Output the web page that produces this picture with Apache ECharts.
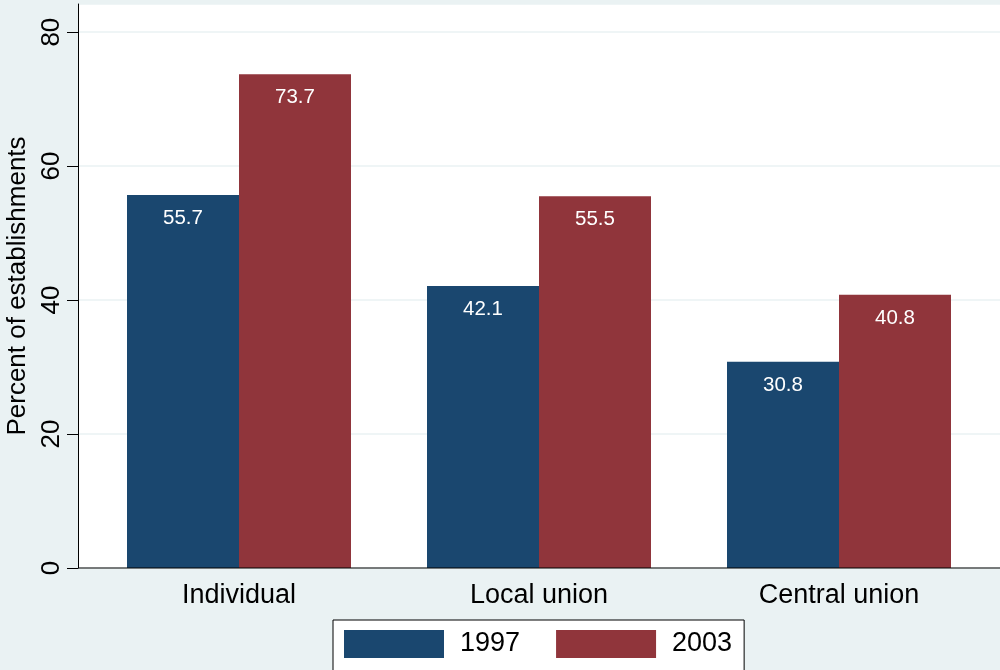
<!DOCTYPE html>
<html><head><meta charset="utf-8">
<script src="https://cdn.jsdelivr.net/npm/echarts@6/dist/echarts.min.js"></script>
<style>html,body{margin:0;padding:0;background:#eaf2f3}#c{width:1000px;height:670px}</style>
</head><body><div id="c"></div>
<script>
const categories = ['Individual', 'Local union', 'Central union'];
const seriesNames = ['1997', '2003'];
const values1997 = [55.7, 42.1, 30.8];
const values2003 = [73.7, 55.5, 40.8];
const yTicks = [0, 20, 40, 60, 80];

const FONT = 'Liberation Sans, Arial';
const YMAX = 84.2;
const chart = echarts.init(document.getElementById('c'));
const labelCfg = {show: true, position: 'insideTop', distance: 13, color: '#fff', fontSize: 20.5, fontFamily: FONT, formatter: p => p.value.toFixed(1)};
chart.setOption({
  backgroundColor: '#eaf2f3',
  animation: false,
  grid: [
    {left: 78, right: 0, top: 4, bottom: 102, show: true, backgroundColor: '#fff', borderWidth: 0, z: 0, containLabel: false, outerBoundsMode: 'none'},
    {left: 89, width: 900, top: 4, bottom: 102, show: false, containLabel: false, outerBoundsMode: 'none'}
  ],
  legend: {
    data: seriesNames, left: 333, top: 620, orient: 'horizontal',
    backgroundColor: '#fff', borderColor: '#000', borderWidth: 1,
    padding: [10, 12, 14, 11], itemWidth: 100, itemHeight: 28, itemGap: 36,
    icon: 'rect',
    textStyle: {fontSize: 27, color: '#000', fontFamily: FONT, padding: [0, 0, 0, 11]}
  },
  xAxis: [
    {type: 'value', gridIndex: 0, show: false, min: 0, max: 1},
    {
      type: 'category', gridIndex: 1, data: categories,
      axisLine: {show: false},
      axisTick: {show: false},
      axisLabel: {fontSize: 27, color: '#000', fontFamily: FONT, margin: 14}
    }
  ],
  yAxis: [
    {
      type: 'value', gridIndex: 0, min: 0, max: YMAX, interval: 20,
      name: 'Percent of establishments', nameLocation: 'middle', nameGap: 45,
      nameTextStyle: {fontSize: 26, color: '#000', fontFamily: FONT},
      axisLine: {show: true, lineStyle: {color: '#000', width: 1}},
      axisTick: {show: true, length: 11, lineStyle: {color: '#000'}},
      axisLabel: {rotate: 90, fontSize: 26, color: '#000', fontFamily: FONT, margin: 13, showMaxLabel: false,
        formatter: v => yTicks.includes(v) ? String(v) : ''},
      splitLine: {show: true, lineStyle: {color: '#eaf2f3', width: 1.5}}
    },
    {type: 'value', gridIndex: 1, min: 0, max: YMAX, show: false, splitLine: {show: false}}
  ],
  graphic: [{
    type: 'line', z: 100,
    shape: {x1: 78, y1: 568, x2: 1000, y2: 568},
    style: {stroke: '#000', lineWidth: 1}
  }],
  series: [
    {name: seriesNames[0], type: 'bar', xAxisIndex: 1, yAxisIndex: 1, data: values1997, barWidth: 112, barGap: '0%', itemStyle: {color: '#1a476f'}, label: labelCfg},
    {name: seriesNames[1], type: 'bar', xAxisIndex: 1, yAxisIndex: 1, data: values2003, barWidth: 112, barGap: '0%', itemStyle: {color: '#90353b'}, label: labelCfg}
  ]
});
</script></body></html>
